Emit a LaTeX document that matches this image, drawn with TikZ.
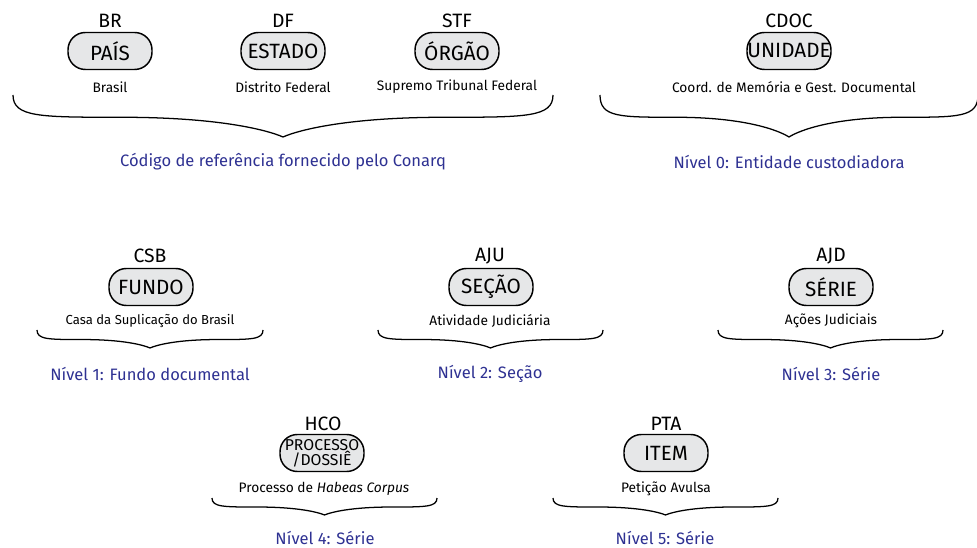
\documentclass[tikz,border=0pt]{standalone}
\usepackage{fontspec}
\setmainfont{Fira Sans}
\definecolor{boxgray}{HTML}{E6E7E8}
\definecolor{levelblue}{HTML}{2E3192}
\tikzset{
  level box/.style={draw=black, line width=1.1pt, fill=boxgray, rounded corners=13pt,
    minimum width=63pt, minimum height=27.75pt, inner sep=0.3pt,
    font=\fontsize{15.5}{16}\selectfont},
  code label/.style={font=\fontsize{14.5}{16}\selectfont},
  desc label/.style={font=\fontsize{10.3}{12}\selectfont},
  level label/.style={text=levelblue, font=\fontsize{12.4}{14}\selectfont},
  brace line/.style={line width=0.95pt}
}
% brace: left x, right x, top y, tip y
\newcommand{\levelbrace}[4]{%
  \pgfmathsetmacro{\bmid}{(#1+#2)/2}%
  \pgfmathsetmacro{\bw}{#2-#1}%
  \pgfmathsetmacro{\bband}{#3+0.53*(#4-#3)}%
  \pgfmathsetmacro{\bdrop}{#3+0.83*(#4-#3)}%
  \draw[brace line] (#1,#3)
    .. controls (#1,\bband) and ({#1+0.05*\bw},\bband) .. ({#1+0.2*\bw},\bband)
    .. controls ({\bmid-0.12*\bw},\bband) and ({\bmid-0.03*\bw},\bdrop) .. (\bmid,#4)
    .. controls ({\bmid+0.03*\bw},\bdrop) and ({\bmid+0.12*\bw},\bband) .. ({#2-0.2*\bw},\bband)
    .. controls ({#2-0.05*\bw},\bband) and (#2,\bband) .. (#2,#3);%
}
\begin{document}
\begin{tikzpicture}[x=0.75pt, y=-0.75pt]
\useasboundingbox (0,0) rectangle (977,548);

% Code given by Conarq
\node[code label] (br) at (110,21) {BR};
\node[level box] (pais) at (110,51) {PAÍS};
\node[desc label] (brasil) at (110,87) {Brasil};

\node[code label] (df) at (283,21) {DF};
\node[level box] (estado) at (283,51) {ESTADO};
\node[desc label] (distrito) at (283,87) {Distrito Federal};

\node[code label] (stf) at (457,21) {STF};
\node[level box] (orgao) at (457,51) {ÓRGÃO};
\node[desc label] (supremo) at (457,87) {Supremo Tribunal Federal};

\levelbrace{13}{553}{95}{137}
\node[level label] (conarq) at (283,162) {Código de referência fornecido pelo Conarq};

% Level 0
\node[code label] (cdoc) at (789,21) {CDOC};
\node[level box] (unidade) at (789,51) {UNIDADE};
\node[desc label] (coord) at (794,87) {Coord. de Memória e Gest. Documental};

\levelbrace{600}{978}{95}{137}
\node[level label] (nivel0) at (789,162) {Nível 0: Entidade custodiadora};

% Level 1
\node[code label] (csb) at (150,256) {CSB};
\node[level box] (fundo) at (151,287) {FUNDO};
\node[desc label, font=\fontsize{9.8}{12}\selectfont] (casa) at (150,321) {Casa da Suplicação do Brasil};

\levelbrace{37}{263}{330}{348}
\node[level label] (nivel1) at (150,374) {Nível 1: Fundo documental};

% Level 2
\node[code label] (aju) at (490,256) {AJU};
\node[level box] (secao) at (491,287) {SEÇÃO};
\node[desc label] (atividade) at (490,321) {Atividade Judiciária};

\levelbrace{378}{603}{330}{348}
\node[level label] (nivel2) at (490,374) {Nível 2: Seção};

% Level 3
\node[code label] (ajd) at (831,256) {AJD};
\node[level box] (serie) at (831,287) {SÉRIE};
\node[desc label] (acoes) at (831,321) {Ações Judiciais};

\levelbrace{718}{943}{330}{348}
\node[level label] (nivel3) at (831,374) {Nível 3: Série};

% Level 4
\node[code label] (hco) at (323,424) {HCO};
\node[level box, align=center, font=\fontsize{11.8}{11.3}\selectfont] (processo) at (322,453) {PROCESSO\\/DOSSIÊ};
\node[desc label] (habeas) at (324,489) {Processo de \textit{Habeas Corpus}};

\levelbrace{212}{437}{498}{515}
\node[level label] (nivel4) at (325,538) {Nível 4: Série};

% Level 5
\node[code label] (pta) at (666,424) {PTA};
\node[level box] (item) at (666,453) {ITEM};
\node[desc label] (peticao) at (666,489) {Petição Avulsa};

\levelbrace{553}{778}{498}{515}
\node[level label] (nivel5) at (665,538) {Nível 5: Série};
\end{tikzpicture}
\end{document}
